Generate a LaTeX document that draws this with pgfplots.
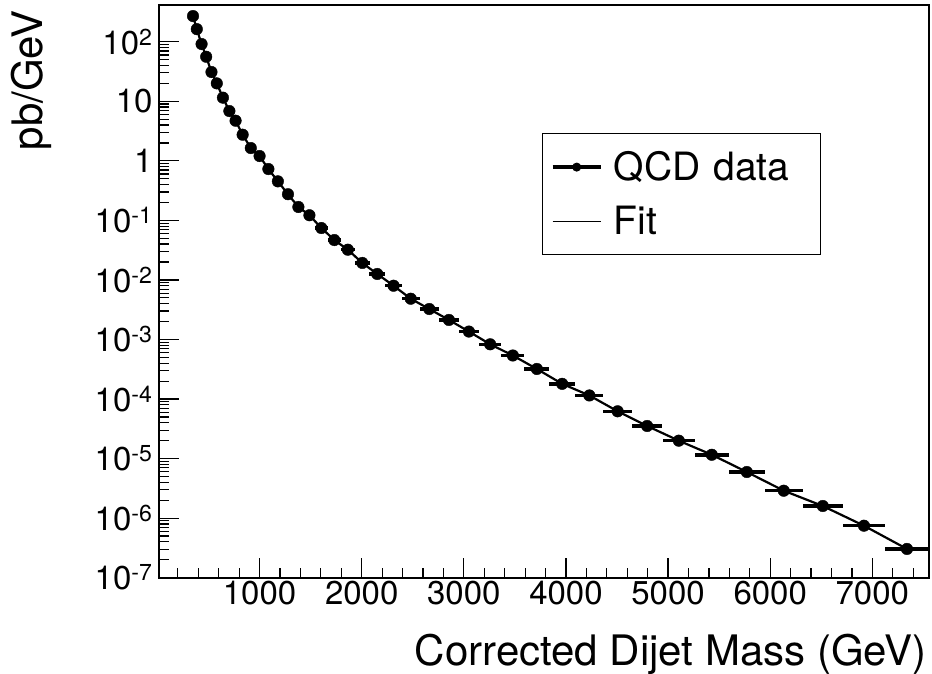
\documentclass[border=0pt]{standalone}
\usepackage{fontspec}
\setmainfont{TeX Gyre Heros}
\usepackage{pgfplots}
\usepackage{pgfplotstable}
\pgfplotsset{compat=1.18}

% mass (GeV), cross section (pb/GeV), half bin width
\pgfplotstableread{
x     y        ex
348   270      18
385   163      21
432   91.5     23
477   56.0     24
529   31.0     26
581   20.0     28
641   11.5     31
704   6.86     31
765   4.72     33
834   2.75     37
914   1.64     42
1000  1.205    43
1086  0.729    45
1179  0.453    48
1278  0.275    50
1380  0.168    53
1488  0.122    56
1605  0.0745   61
1732  0.0468   65
1864  0.0322   69
2006  0.0193   72
2152  0.0126   77
2312  0.0080   82
2480  0.00484  88
2662  0.00325  94
2854  0.00213  97
3050  0.00136  101
3258  0.000831 108
3480  0.000539 114
3715  0.000320 121
3963  0.000180 129
4229  0.000115 136
4506  6.23e-5  139
4795  3.53e-5  150
5105  2.00e-5  156
5428  1.16e-5  169
5771  5.96e-6  176
6133  2.89e-6  187
6515  1.60e-6  196
6918  7.47e-7  207
7339  3.04e-7  214
}\qcd

\begin{document}
\begin{tikzpicture}
\begin{axis}[
  name=ax,
  scale only axis,
  width=770pt, height=572.7pt,
  ymode=log,
  xmin=15, xmax=7555,
  ymin=1e-7, ymax=414,
  axis line style={line width=1.6pt},
  tick style={line width=1.2pt, black},
  tick align=inside,
  tick pos=left,
  major tick length=20pt,
  minor tick length=10pt,
  xtick={0,1000,...,8000},
  minor x tick num=4,
  ytick={1e-7,1e-6,1e-5,1e-4,1e-3,1e-2,1e-1,1,10,100},
  yticklabels={10\textsuperscript{-7},10\textsuperscript{-6},10\textsuperscript{-5},
    10\textsuperscript{-4},10\textsuperscript{-3},10\textsuperscript{-2},
    10\textsuperscript{-1},1,10,10\textsuperscript{2}},
  ticklabel style={font=\fontsize{33}{39}\selectfont},
  xticklabel style={/pgf/number format/assume math mode=true,
                    /pgf/number format/1000 sep={}},
  yticklabel style={xshift=-3pt},
  xlabel={Corrected Dijet Mass (GeV)},
  ylabel={pb/GeV},
  label style={font=\fontsize{42}{49}\selectfont},
  xlabel style={at={(rel axis cs:1,0)}, anchor=base east, inner sep=0pt,
                yshift=-88pt, xshift=-2pt},
  ylabel style={at={(rel axis cs:0,1)}, anchor=base east, inner sep=0pt,
                xshift=-5pt, yshift=116pt},
  legend style={at={(0.498,0.776)}, anchor=north west, draw=black,
                line width=1pt, font=\fontsize{39}{45}\selectfont,
                inner xsep=8pt, inner ysep=16pt, row sep=20pt,
                nodes={text width=197pt}},
  legend cell align=left,
]
\addplot[black, only marks, mark=*, mark size=5.8pt,
  legend image code/.code={
    \draw[line width=3.5pt] (0pt,0pt) -- (48pt,0pt);
    \fill (24pt,0pt) circle (4pt);
    \path (58pt,0pt);},
  error bars/.cd, x dir=both, x explicit, error mark=none,
  error bar style={line width=3.5pt, black}]
  table[x=x, y=y, x error=ex] {\qcd};
\addlegendentry{QCD data}
\addplot[black, line width=2.2pt, no marks,
  legend image code/.code={
    \draw[line width=1.5pt] (0pt,0pt) -- (48pt,0pt);
    \path (58pt,0pt);}]
  table[x=x, y=y] {\qcd};
\addlegendentry{Fit}
\end{axis}
\pgfresetboundingbox
\path ([xshift=-159pt,yshift=-95.3pt]ax.south west) rectangle ([xshift=3pt,yshift=5pt]ax.north east);
\end{tikzpicture}
\end{document}
